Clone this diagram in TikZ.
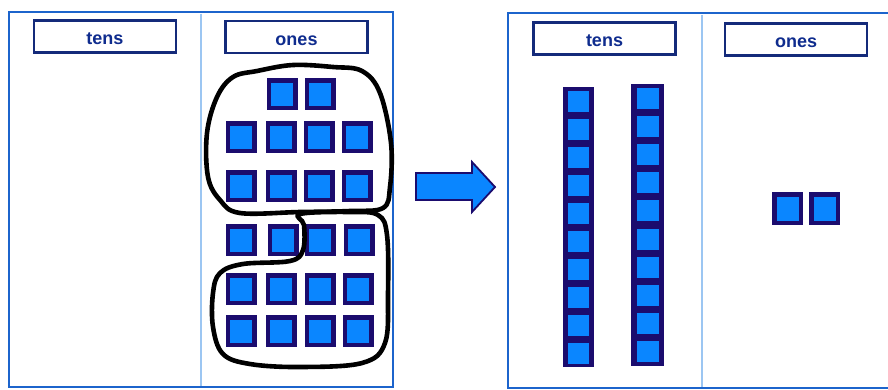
\documentclass[tikz,border=0pt]{standalone}
\usepackage{fontspec}
\setmainfont{Liberation Sans}
\definecolor{navyc}{HTML}{1B0C6E}
\definecolor{bluec}{HTML}{0A86FF}
\definecolor{framec}{HTML}{1C64CC}
\definecolor{divc}{HTML}{9CC6F2}
\definecolor{labc}{HTML}{142A7A}
\definecolor{textc}{HTML}{0F2C8E}
\begin{document}
\begin{tikzpicture}[x=1pt,y=-1pt,
  unitsq/.style={draw=navyc,line width=4.5pt,fill=bluec,minimum width=26.5pt,minimum height=27.5pt,inner sep=0pt,outer sep=0pt},
  rodbar/.style={fill=navyc,minimum width=31pt,inner sep=0pt,outer sep=0pt},
  rodcell/.style={fill=bluec,minimum width=21pt,minimum height=21pt,inner sep=0pt,outer sep=0pt},
  labelbox/.style={draw=labc,line width=2.8pt,fill=white,minimum width=142pt,minimum height=32pt,inner sep=0pt,
    text height=16pt,text depth=0pt,
    text=textc,font=\bfseries\fontsize{18}{18}\selectfont},
  frameline/.style={draw=framec,line width=2.5pt},
  divline/.style={draw=divc,line width=1.5pt},
  loop/.style={draw=black,line width=4.6pt,line join=round}]
\useasboundingbox (0,0) rectangle (888,389);
% frames
\draw[frameline] (9,12) rectangle (393,387);
\draw[divline] (201,13.5) -- (201,386);
\draw[frameline] (508,13) rectangle (895,388);
\draw[divline] (702,14.5) -- (702,387);
% labels
\node[labelbox] (ltens) at (105,36.5) {tens};
\node[labelbox] (lones) at (296.5,37) {ones};
\node[labelbox] (rtens) at (604.5,38.5) {tens};
\node[labelbox] (rones) at (796,39.5) {ones};
% left ones
\node[unitsq] (a1) at (282,94) {};
\node[unitsq] (a2) at (320,94) {};
\foreach \x [count=\i] in {241,281,319,357}{
  \node[unitsq] (b\i) at (\x,137) {};
  \node[unitsq] (c\i) at (\x,186) {};
}
\foreach \x [count=\i] in {241,283,320,359}{
  \node[unitsq] (d\i) at (\x,240) {};
}
\foreach \x [count=\i] in {241,281,320,358}{
  \node[unitsq] (e\i) at (\x,289) {};
  \node[unitsq] (f\i) at (\x,331) {};
}
% loops
\draw[loop] plot[smooth cycle,tension=0.6] coordinates {
  (233,77) (257,71) (293,65) (333,67) (362,71) (380,93) (391,143) (390,187)
  (383,208) (350,211) (300,212) (240,213) (220,200) (208,177) (207,133) (217,97)};
\draw[loop] plot[smooth cycle,tension=0.6] coordinates {
  (300,214) (350,212) (378,215) (387,235) (388,293) (385,343) (362,363) (300,367)
  (250,364) (223,354) (213,327) (213,293) (220,273) (243,264) (290,261) (303,250) (304,225)};
% arrow
\draw[draw=navyc,fill=bluec,line width=1.8pt,line join=miter]
  (416,173) -- (472,173) -- (472,162) -- (495,187) -- (472,212) -- (472,200) -- (416,200) -- cycle;
% tens rods
\node[rodbar,minimum height=280pt] (rod1) at (578.5,227) {};
\foreach \k in {0,...,9}{
  \node[rodcell] (r1u\k) at (578.5,{101+28*\k}) {};
}
\node[rodbar,minimum height=282pt,minimum width=33pt] (rod2) at (647.5,225) {};
\foreach \k in {0,...,9}{
  \node[rodcell,minimum width=22pt] (r2u\k) at (647.5,{98.1+28.2*\k}) {};
}
% right ones
\node[unitsq,minimum height=28.5pt] (g1) at (787.5,208.5) {};
\node[unitsq,minimum height=28.5pt] (g2) at (824.5,208.5) {};
\end{tikzpicture}
\end{document}
